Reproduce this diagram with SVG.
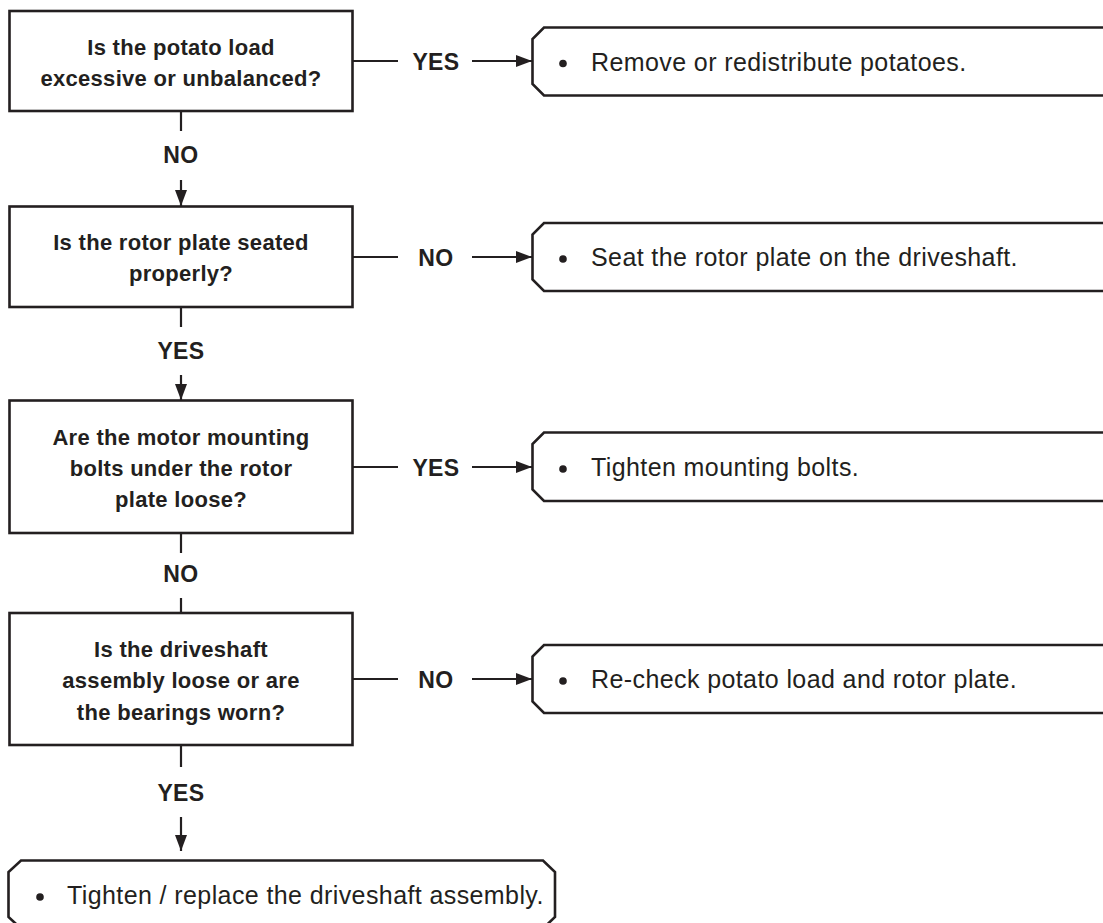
<svg xmlns="http://www.w3.org/2000/svg" width="1103" height="923" viewBox="0 0 1103 923">
<style>
.q{fill:#fff;stroke:#231f20;stroke-width:2.6}
.r{fill:#fff;stroke:#231f20;stroke-width:2.6;stroke-linejoin:miter}
.c{fill:none;stroke:#231f20;stroke-width:2.2}
.qt{font-family:"Liberation Sans",Arial,sans-serif;font-weight:bold;font-size:22px;letter-spacing:0.3px;fill:#231f20;text-anchor:middle}
.lb{font-family:"Liberation Sans",Arial,sans-serif;font-weight:bold;font-size:23px;letter-spacing:0.4px;fill:#231f20;text-anchor:middle}
.rt{font-family:"Liberation Sans",Arial,sans-serif;font-size:25px;letter-spacing:0.4px;fill:#231f20}
.bu{fill:#231f20}
</style>
<defs>
<marker id="ah" viewBox="0 0 16 12" refX="16" refY="6" markerWidth="16" markerHeight="12" markerUnits="userSpaceOnUse" orient="auto">
<path d="M0,0 L16,6 L0,12 Z" fill="#231f20"/>
</marker>
</defs>
<g id="connectors">
<line class="c" x1="353" y1="61" x2="398" y2="61"/>
<text class="lb" x="436" y="69.5">YES</text>
<line class="c" x1="472" y1="61" x2="532" y2="61" marker-end="url(#ah)"/>
<line class="c" x1="181" y1="111" x2="181" y2="131"/>
<text class="lb" x="181" y="163">NO</text>
<line class="c" x1="181" y1="180" x2="181" y2="206" marker-end="url(#ah)"/>
<line class="c" x1="353" y1="257" x2="398" y2="257"/>
<text class="lb" x="436" y="265.5">NO</text>
<line class="c" x1="472" y1="257" x2="532" y2="257" marker-end="url(#ah)"/>
<line class="c" x1="181" y1="307" x2="181" y2="327"/>
<text class="lb" x="181" y="359">YES</text>
<line class="c" x1="181" y1="375" x2="181" y2="400" marker-end="url(#ah)"/>
<line class="c" x1="353" y1="467" x2="398" y2="467"/>
<text class="lb" x="436" y="475.5">YES</text>
<line class="c" x1="472" y1="467" x2="532" y2="467" marker-end="url(#ah)"/>
<line class="c" x1="181" y1="533" x2="181" y2="553"/>
<text class="lb" x="181" y="582">NO</text>
<line class="c" x1="181" y1="598" x2="181" y2="613"/>
<line class="c" x1="353" y1="679" x2="398" y2="679"/>
<text class="lb" x="436" y="687.5">NO</text>
<line class="c" x1="472" y1="679" x2="532" y2="679" marker-end="url(#ah)"/>
<line class="c" x1="181" y1="745" x2="181" y2="767"/>
<text class="lb" x="181" y="801">YES</text>
<line class="c" x1="181" y1="817" x2="181" y2="851" marker-end="url(#ah)"/>
</g>
<g id="q1">
<rect class="q" x="9.5" y="11" width="343" height="100"/>
<text class="qt" x="181" y="55">Is the potato load</text>
<text class="qt" x="181" y="86">excessive or unbalanced?</text>
</g>
<g id="q2">
<rect class="q" x="9.5" y="206.5" width="343" height="100.5"/>
<text class="qt" x="181" y="250">Is the rotor plate seated</text>
<text class="qt" x="181" y="281">properly?</text>
</g>
<g id="q3">
<rect class="q" x="9.5" y="400.5" width="343" height="132.5"/>
<text class="qt" x="181" y="445">Are the motor mounting</text>
<text class="qt" x="181" y="476">bolts under the rotor</text>
<text class="qt" x="181" y="507">plate loose?</text>
</g>
<g id="q4">
<rect class="q" x="9.5" y="613" width="343" height="132"/>
<text class="qt" x="181" y="657">Is the driveshaft</text>
<text class="qt" x="181" y="688">assembly loose or are</text>
<text class="qt" x="181" y="720">the bearings worn?</text>
</g>
<g id="a1">
<path class="r" d="M1110,27.5 L544,27.5 L532.5,39 L532.5,84 L544,95.5 L1110,95.5"/>
<circle class="bu" cx="563" cy="63.5" r="3.8"/>
<text class="rt" x="591" y="70.5">Remove or redistribute potatoes.</text>
</g>
<g id="a2">
<path class="r" d="M1110,223 L544,223 L532.5,234.5 L532.5,279.5 L544,291 L1110,291"/>
<circle class="bu" cx="563" cy="259" r="3.8"/>
<text class="rt" x="591" y="266">Seat the rotor plate on the driveshaft.</text>
</g>
<g id="a3">
<path class="r" d="M1110,432.5 L544,432.5 L532.5,444 L532.5,489.5 L544,501 L1110,501"/>
<circle class="bu" cx="563" cy="469" r="3.8"/>
<text class="rt" x="591" y="476">Tighten mounting bolts.</text>
</g>
<g id="a4">
<path class="r" d="M1110,645 L544,645 L532.5,656.5 L532.5,701.5 L544,713 L1110,713"/>
<circle class="bu" cx="563" cy="681" r="3.8"/>
<text class="rt" x="591" y="688">Re-check potato load and rotor plate.</text>
</g>
<g id="a5">
<path class="r" d="M21,860.5 L543,860.5 L555,872 L555,917 L543,928.5 L21,928.5 L8.5,917 L8.5,872 Z"/>
<circle class="bu" cx="40" cy="897" r="3.8"/>
<text class="rt" x="67" y="904">Tighten / replace the driveshaft assembly.</text>
</g>
</svg>
